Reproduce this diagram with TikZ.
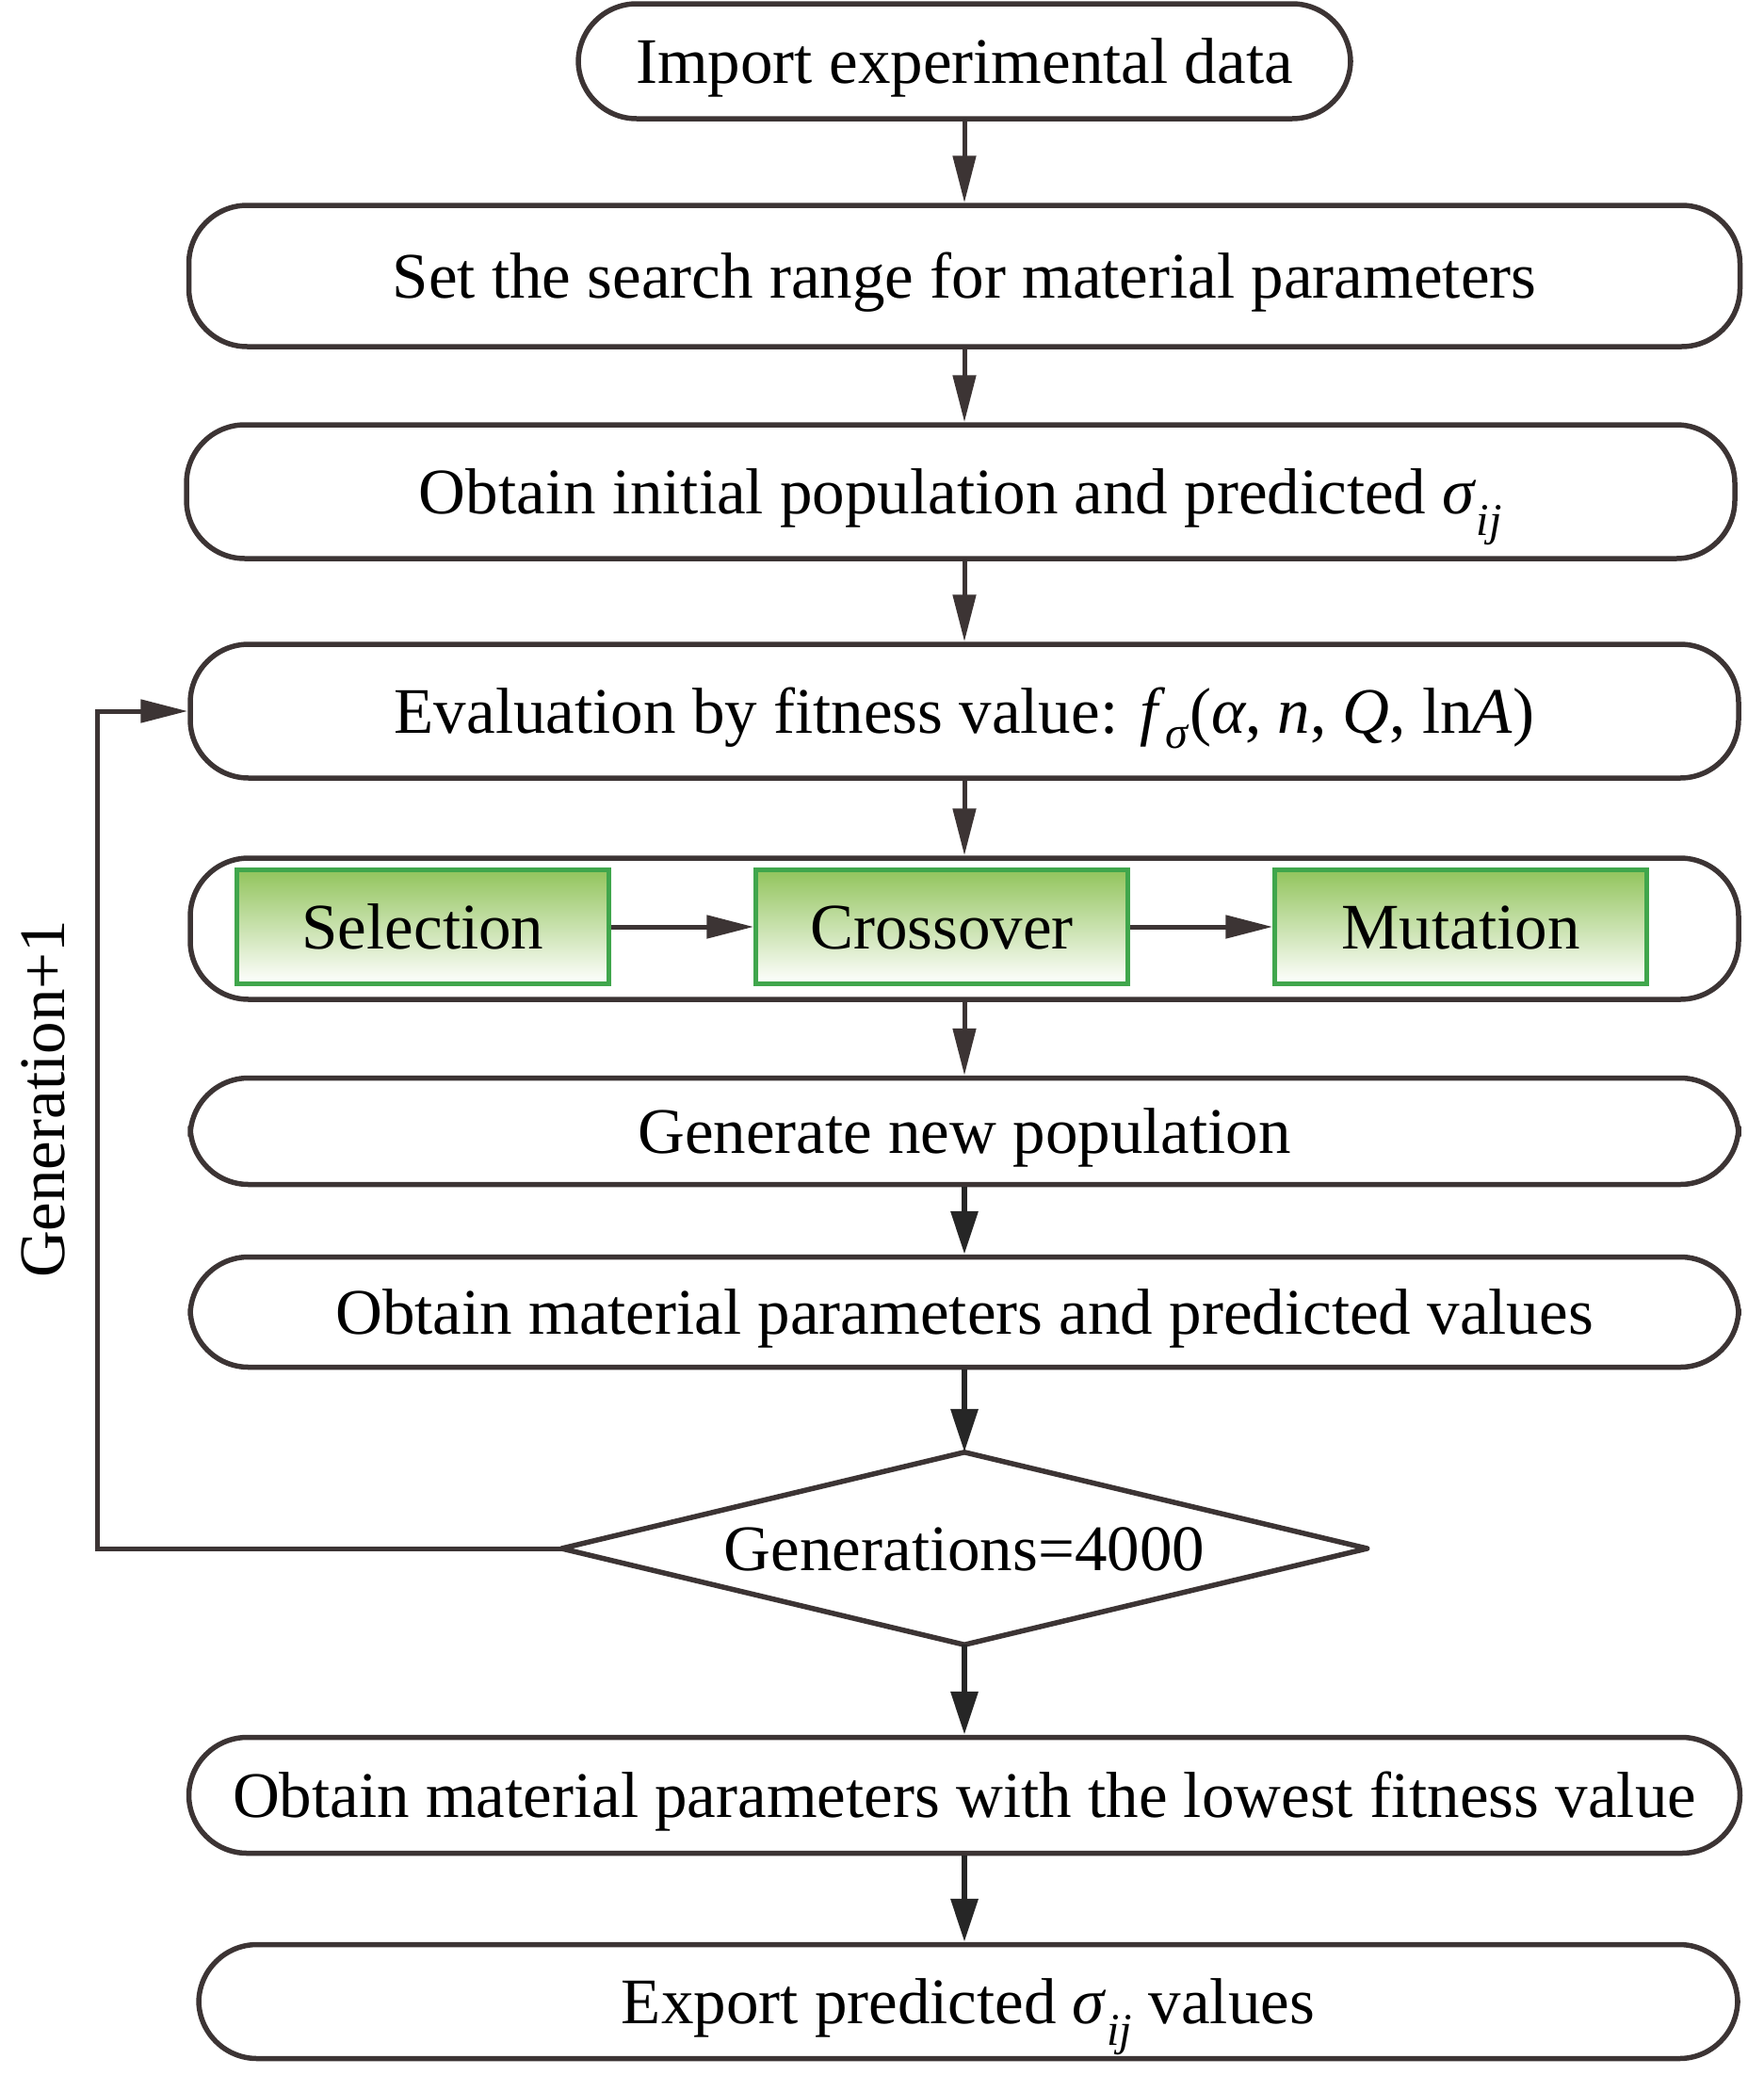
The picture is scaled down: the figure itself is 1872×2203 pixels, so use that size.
\documentclass[tikz,border=0pt]{standalone}
\usepackage{fontspec}
\setmainfont{Liberation Serif}
\usetikzlibrary{arrows.meta,calc}
\definecolor{ln}{RGB}{60,52,52}
\definecolor{gtop}{RGB}{146,196,92}
\definecolor{gborder}{RGB}{64,166,76}
\tikzset{
  txt/.style={font=\fontsize{69}{80}\selectfont, text height=46pt, text depth=0pt},
  pill/.style={txt, draw=ln, line width=5.5pt, rounded corners=62pt, minimum width=1644pt, inner sep=0pt},
  gbox/.style={txt, draw=gborder, line width=4.5pt, top color=gtop, bottom color=white, minimum width=395pt, minimum height=121pt, inner sep=0pt},
  arr/.style={draw=ln, line width=5pt, -{Triangle[length=50pt,width=24pt]}},
  barr/.style={draw=black!85, line width=6.5pt, -{Triangle[length=46pt,width=28pt]}},
}
\begin{document}
\begin{tikzpicture}[x=1pt,y=-1pt]
\useasboundingbox (0,0) rectangle (1872,2203);
\node[pill, minimum width=820pt, minimum height=122pt] (b1) at (1024,65) {Import experimental data};
\node[pill, minimum width=1647pt, minimum height=150pt] (b2) at (1024,293) {Set the search range for material parameters};
\node[pill, minimum height=142pt] (b3) at (1020,522) {Obtain initial population and predicted \textit{σ}\textsubscript{\textit{ij}}};
\node[pill, minimum height=142pt] (b4) at (1024,755) {Evaluation by fitness value: \textit{f}\textsubscript{\textit{σ}}(\textit{α}, \textit{n}, \textit{Q}, ln\textit{A})};
\node[pill, minimum height=150pt] (b5) at (1024,986) {};
\node[gbox] (sel) at (449,984) {Selection};
\node[gbox] (cro) at (1000,984) {Crossover};
\node[gbox] (mut) at (1551,984) {Mutation};
\node[pill, minimum height=113pt] (b6) at (1024,1201) {Generate new population};
\node[pill, minimum height=117pt] (b7) at (1024,1393) {Obtain material parameters and predicted values};
\node[txt, minimum width=855pt, minimum height=204pt, inner sep=0pt] (dec) at (1024,1644) {Generations=4000};
\draw[draw=ln, line width=5.5pt, line join=round] (dec.west) -- (dec.north) -- (dec.east) -- (dec.south) -- cycle;
\node[pill, minimum width=1647pt, minimum height=123pt] (b8) at (1024,1906) {Obtain material parameters with the lowest fitness value};
\node[pill, minimum width=1634pt, minimum height=121pt] (b9) at (1028,2125) {Export predicted \textit{σ}\textsubscript{\textit{ij}} values};
\node[rotate=90, inner sep=0pt, font=\fontsize{69}{80}\selectfont] (gen) at (46,1167) {Generation+1};
\coordinate (lp) at (103,1644);
\draw[arr] (b1.south) -- (b1.south |- b2.north);
\draw[arr] (b2.south) -- (b2.south |- b3.north);
\draw[arr] (b3.south -| b2.south) -- (b2.south |- b4.north);
\draw[arr] (b4.south) -- (b4.south |- b5.north);
\draw[arr] (b5.south) -- (b5.south |- b6.north);
\draw[arr] (sel.east) -- (cro.west);
\draw[arr] (cro.east) -- (mut.west);
\draw[barr] (b6.south) -- (b6.south |- b7.north);
\draw[barr] (b7.south) -- (b7.south |- dec.north);
\draw[barr] (dec.south) -- (dec.south |- b8.north);
\draw[barr] (b8.south) -- (b8.south |- b9.north);
\draw[arr, line join=miter] (dec.west) -- (lp) |- (b4.west);
\end{tikzpicture}
\end{document}
